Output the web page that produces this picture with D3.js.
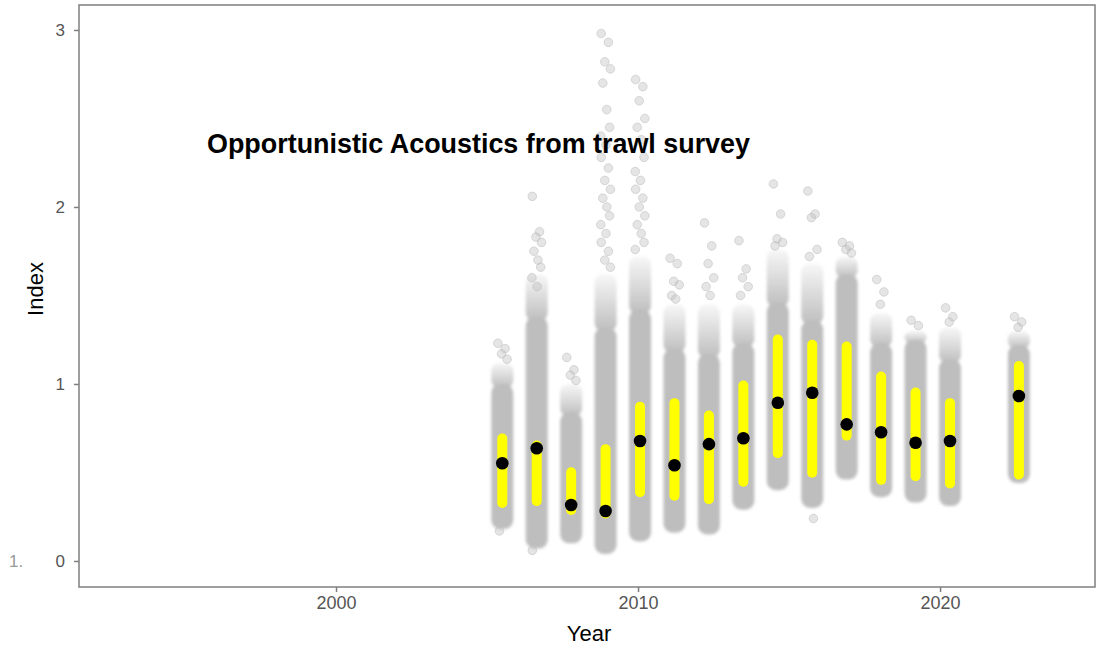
<!DOCTYPE html>
<html>
<head>
<meta charset="utf-8">
<script src="https://cdn.jsdelivr.net/npm/d3@7"></script>
<style>
  body { margin: 0; background: #fff; }
  text { font-family: 'Liberation Sans', Arial, sans-serif; }
</style>
</head>
<body>
<div id="chart"></div>
<script>
// survey years and the estimated index per year
const years = [2006, 2007, 2008, 2009, 2010, 2011, 2012, 2013, 2014, 2015, 2016, 2017, 2018, 2019, 2021]
const means = [0.552, 0.637, 0.316, 0.282, 0.678, 0.541, 0.660, 0.693, 0.894, 0.950, 0.772, 0.727, 0.668, 0.678, 0.932]

// central (yellow) range of the bootstrap values
const coreLow = [0.30, 0.31, 0.26, 0.24, 0.36, 0.34, 0.32, 0.42, 0.58, 0.47, 0.68, 0.43, 0.45, 0.41, 0.46]
const coreHigh = [0.72, 0.68, 0.53, 0.66, 0.90, 0.92, 0.85, 1.02, 1.28, 1.25, 1.24, 1.07, 0.98, 0.92, 1.13]

// grey cloud: bottom, top of the solid part, top of the thinning part
const cloudLow = [0.18, 0.07, 0.10, 0.04, 0.11, 0.16, 0.15, 0.29, 0.40, 0.30, 0.46, 0.36, 0.33, 0.31, 0.44]
const cloudDense = [1.00, 1.38, 0.84, 1.32, 1.42, 1.20, 1.17, 1.23, 1.46, 1.36, 1.62, 1.23, 1.25, 1.14, 1.22]
const cloudTail = [1.12, 1.62, 1.00, 1.62, 1.72, 1.45, 1.45, 1.45, 1.76, 1.68, 1.72, 1.40, 1.30, 1.32, 1.30]

// scattered single values above / below the cloud
const outliers = [
  [1.23, 1.20, 1.17, 1.14, 0.17],
  [2.06, 1.86, 1.83, 1.80, 1.75, 1.70, 1.66, 1.60, 1.55, 0.06],
  [1.15, 1.08, 1.05, 1.02],
  [2.98, 2.93, 2.82, 2.78, 2.70, 2.55, 2.45, 2.40, 2.35, 2.28, 2.22, 2.15, 2.10, 2.05, 2.00, 1.95, 1.90, 1.85, 1.80, 1.75, 1.70, 1.66],
  [2.72, 2.68, 2.60, 2.50, 2.45, 2.38, 2.28, 2.20, 2.15, 2.10, 2.05, 2.00, 1.95, 1.90, 1.85, 1.80, 1.76],
  [1.71, 1.68, 1.58, 1.56, 1.50, 1.48],
  [1.91, 1.78, 1.68, 1.60, 1.55, 1.50],
  [1.81, 1.65, 1.60, 1.55, 1.50],
  [2.13, 1.96, 1.82, 1.80, 1.78],
  [2.09, 1.96, 1.94, 1.76, 1.72, 0.24],
  [1.80, 1.78, 1.76, 1.74],
  [1.59, 1.52, 1.45],
  [1.36, 1.33],
  [1.43, 1.38, 1.35],
  [1.38, 1.35, 1.32]
]

const xTicks = [2000, 2010, 2020]
const yTicks = [0, 1, 2, 3]

const margin = { top: 5, left: 79, right: 8, bottom: 62 }
const width = 1103 - margin.left - margin.right
const height = 649 - margin.top - margin.bottom

const svg = d3
  .select('#chart')
  .append('svg')
  .attr('width', width + margin.left + margin.right)
  .attr('height', height + margin.top + margin.bottom)

const g = svg
  .append('g')
  .attr('transform', 'translate(' + margin.left + ',' + margin.top + ')')

// axis scale and the (slightly different) scale the clouds were drawn on
const xAxisScale = d3.scaleLinear().domain([1991.49, 2025.13]).range([0, width])
const xPointScale = d3.scaleLinear().domain([1993.71, 2023.21]).range([0, width])
const yPositionScale = d3.scaleLinear().domain([-0.147, 3.141]).range([height, 0])

const defs = svg.append('defs')
const grad = defs
  .append('linearGradient')
  .attr('id', 'fade')
  .attr('x1', 0).attr('y1', 1).attr('x2', 0).attr('y2', 0)
grad.append('stop').attr('offset', '0%').attr('stop-color', '#bebebe').attr('stop-opacity', 1)
grad.append('stop').attr('offset', '100%').attr('stop-color', '#bebebe').attr('stop-opacity', 0.12)

defs.append('filter')
  .attr('id', 'soft')
  .attr('x', '-50%').attr('y', '-10%').attr('width', '200%').attr('height', '120%')
  .append('feGaussianBlur')
  .attr('stdDeviation', 1.4)

const rows = years.map((year, i) => ({
  year: year,
  mean: means[i],
  coreLow: coreLow[i],
  coreHigh: coreHigh[i],
  low: cloudLow[i],
  dense: cloudDense[i],
  tail: cloudTail[i],
  outliers: outliers[i]
}))

const cloudW = 22
const coreW = 10

const clouds = g.append('g').attr('filter', 'url(#soft)')

// thinning tail
clouds.selectAll('.tail')
  .data(rows)
  .enter()
  .append('rect')
  .attr('x', d => xPointScale(d.year) - cloudW / 2)
  .attr('y', d => yPositionScale(d.tail))
  .attr('width', cloudW)
  .attr('height', d => yPositionScale(d.dense) - yPositionScale(d.tail) + 4)
  .attr('rx', 8)
  .attr('fill', 'url(#fade)')

// solid cloud
clouds.selectAll('.cloud')
  .data(rows)
  .enter()
  .append('rect')
  .attr('x', d => xPointScale(d.year) - cloudW / 2)
  .attr('y', d => yPositionScale(d.dense))
  .attr('width', cloudW)
  .attr('height', d => yPositionScale(d.low) - yPositionScale(d.dense))
  .attr('rx', 9)
  .attr('fill', '#bebebe')

// scattered points
const jitter = [-0.55, 0.35, -0.1, 0.6, -0.35, 0.15, 0.5, -0.6, 0.05]
const pts = []
rows.forEach(d => {
  d.outliers.forEach((v, j) => {
    pts.push({ year: d.year, value: v, j: j })
  })
})
g.selectAll('.pt')
  .data(pts)
  .enter()
  .append('circle')
  .attr('cx', d => xPointScale(d.year) + jitter[d.j % jitter.length] * (cloudW / 2 - 3))
  .attr('cy', d => yPositionScale(d.value))
  .attr('r', 4.3)
  .attr('fill', '#bebebe')
  .attr('fill-opacity', 0.4)
  .attr('stroke', '#bebebe')
  .attr('stroke-opacity', 0.7)
  .attr('stroke-width', 0.8)

// yellow central range
g.selectAll('.core')
  .data(rows)
  .enter()
  .append('rect')
  .attr('x', d => xPointScale(d.year) - coreW / 2)
  .attr('y', d => yPositionScale(d.coreHigh))
  .attr('width', coreW)
  .attr('height', d => yPositionScale(d.coreLow) - yPositionScale(d.coreHigh))
  .attr('rx', 5)
  .attr('fill', '#ffff00')

// means
g.selectAll('.mean')
  .data(rows)
  .enter()
  .append('circle')
  .attr('cx', d => xPointScale(d.year))
  .attr('cy', d => yPositionScale(d.mean))
  .attr('r', 6.3)
  .attr('fill', '#000')

// panel border
g.append('rect')
  .attr('width', width)
  .attr('height', height)
  .attr('fill', 'none')
  .attr('stroke', '#7f7f7f')
  .attr('stroke-width', 1.5)

const xAxis = d3.axisBottom(xAxisScale).tickValues(xTicks).tickSize(5).tickPadding(4).tickFormat(d3.format('d'))
g.append('g')
  .attr('class', 'axis x-axis')
  .attr('transform', 'translate(0,' + height + ')')
  .call(xAxis)
  .attr('font-size', 18)

const yAxis = d3.axisLeft(yPositionScale).tickValues(yTicks).tickSize(5).tickPadding(9).tickFormat(d3.format('d'))
g.append('g')
  .attr('class', 'axis y-axis')
  .call(yAxis)
  .attr('font-size', 17)

g.selectAll('.axis path').remove()
g.selectAll('.axis line').attr('stroke', '#7f7f7f').attr('stroke-width', 1.5)
g.selectAll('.axis').attr('font-family', "'Liberation Sans', Arial, sans-serif")
g.selectAll('.axis text').attr('fill', '#555')

svg.append('text')
  .text('Year')
  .attr('x', 589)
  .attr('y', 641)
  .attr('text-anchor', 'middle')
  .attr('font-size', 22)

svg.append('text')
  .text('Index')
  .attr('transform', 'translate(43,289) rotate(-90)')
  .attr('text-anchor', 'middle')
  .attr('font-size', 22)

svg.append('text')
  .text('1.')
  .attr('x', 9)
  .attr('y', 567)
  .attr('font-size', 17)
  .attr('fill', '#999')

svg.append('text')
  .text('Opportunistic Acoustics from trawl survey')
  .attr('x', 207)
  .attr('y', 153)
  .attr('font-family', "'Liberation Sans Narrow', 'Liberation Sans', Arial, sans-serif")
  .attr('font-size', 28)
  .attr('font-weight', 'bold')
  .attr('textLength', 543)
  .attr('lengthAdjust', 'spacingAndGlyphs')
</script>
</body>
</html>
